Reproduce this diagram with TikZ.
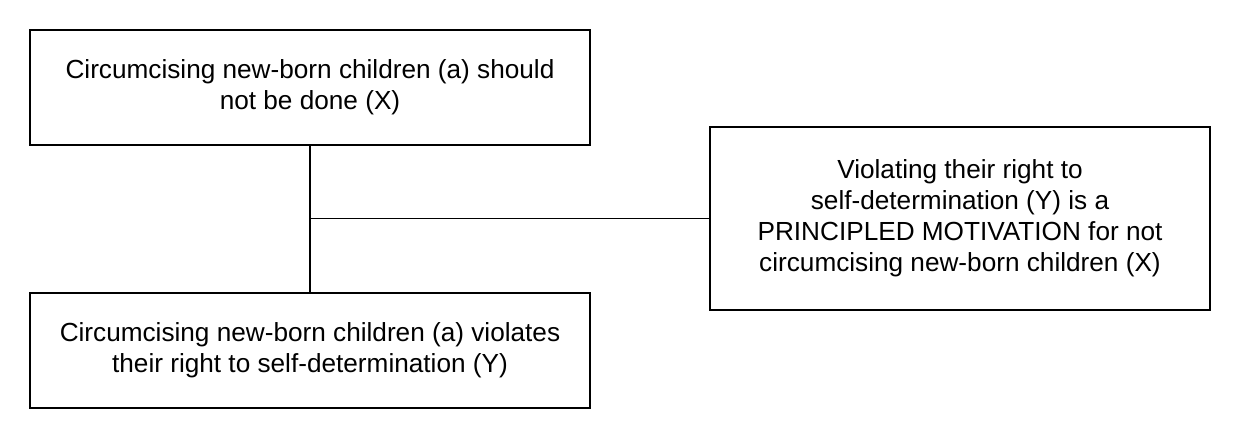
\documentclass[tikz,border=0pt]{standalone}
\usepackage{fontspec}
\setmainfont{Liberation Sans}
\tikzset{%
  argbox/.style={draw=black, thick, align=center, inner sep=0pt, font=\fontsize{14.9}{17.6}\selectfont},
  argline/.style={draw=black, thick}
}
\begin{document}
\begin{tikzpicture}[x=0.02cm, y=-0.02cm]
\useasboundingbox (0,0) rectangle (1240,438);

\node [argbox, minimum width=11.2cm, minimum height=2.3cm] (claim) at (310,87.5)
  {Circumcising new-born children (a) should\\not be done (X)};
\node [argbox, minimum width=11.2cm, minimum height=2.3cm] (reason) at (310,350.5)
  {Circumcising new-born children (a) violates\\their right to self-determination (Y)};
\node [argbox, minimum width=10cm, minimum height=3.66cm] (motive) at (960,218.5)
  {Violating their right to\\self-determination (Y) is a\\PRINCIPLED MOTIVATION for not\\circumcising new-born children (X)};

% link
\coordinate (join) at (310,218.5);
\draw [argline] (claim) -- (reason);
\draw [argline] (join) -- (motive);

\end{tikzpicture}
\end{document}
